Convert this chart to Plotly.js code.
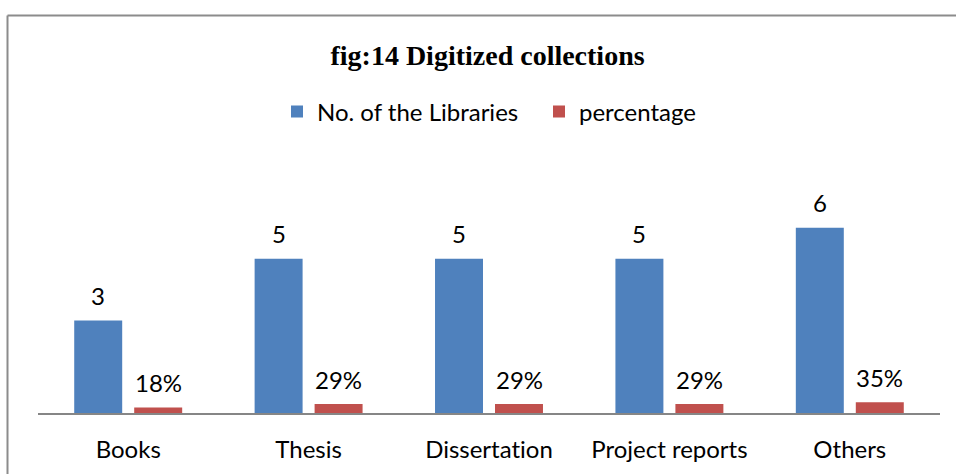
<!DOCTYPE html>
<html>
<head>
<meta charset="utf-8">
<script src="https://cdn.plot.ly/plotly-3.0.1.min.js"></script>
<style>
  html, body { margin: 0; padding: 0; background: #ffffff; }
  #chart { width: 956px; height: 474px; }
  #chart text { font-variant-ligatures: none !important; font-feature-settings: "liga" 0, "clig" 0 !important; }
</style>
</head>
<body>
<div id="chart"></div>
<script>
const categories = ["Books", "Thesis", "Dissertation", "Project reports", "Others"];
const libraries = [3, 5, 5, 5, 6];
const percentage = [0.18, 0.29, 0.29, 0.29, 0.35];
const percentLabels = ["18%", "29%", "29%", "29%", "35%"];
const seriesNames = ["No. of the Libraries", "percentage"];

const labelFont = { family: "Lato, 'Noto Sans', sans-serif", size: 24, color: "#000000" };

const traces = [
  { type: "bar", name: seriesNames[0], x: categories, y: libraries,
    marker: { color: "#4F81BD" }, hoverinfo: "skip" },
  { type: "bar", name: seriesNames[1], x: categories, y: percentage,
    marker: { color: "#C0504D" }, hoverinfo: "skip" }
];

const annotations = [];
categories.forEach((c, i) => {
  annotations.push({ x: c, y: libraries[i], xref: "x", yref: "y", text: String(libraries[i]),
    showarrow: false, xshift: -30, yshift: 25, yanchor: "middle", font: labelFont });
  annotations.push({ x: c, y: percentage[i], xref: "x", yref: "y", text: percentLabels[i],
    showarrow: false, xshift: 30, yshift: 25, yanchor: "middle", font: labelFont });
});

const layout = {
  width: 956, height: 474,
  margin: { l: 38, r: 16, t: 197, b: 61 },
  paper_bgcolor: "#ffffff", plot_bgcolor: "#ffffff",
  barmode: "group", bargap: 0.335, bargroupgap: 0.2,
  title: { text: "<b>fig:14 Digitized collections</b>",
    font: { family: "'Liberation Serif', 'Times New Roman', serif", size: 28, color: "#000000" },
    x: 0.51, xanchor: "center", y: 1 - 55 / 474, yanchor: "middle" },
  showlegend: true,
  legend: { orientation: "h", x: (291 - 14 - 38) / 902, xanchor: "left", y: (413 - 112) / 216, yanchor: "middle",
    font: labelFont, itemwidth: 30, entrywidth: 217, traceorder: "normal" },
  xaxis: { type: "category", showline: true, linecolor: "#868686", linewidth: 2,
    ticks: "", showgrid: false, zeroline: false, tickfont: labelFont, ticklabelstandoff: 14 },
  yaxis: { range: [0, 7], visible: false, showgrid: false, zeroline: false },
  annotations: annotations,
  shapes: [
    { type: "line", xref: "paper", yref: "paper", x0: (7.5 - 38) / 902, x1: (970 - 38) / 902,
      y0: (413 - 15.5) / 216, y1: (413 - 15.5) / 216, line: { color: "#8c8c8c", width: 2 } },
    { type: "line", xref: "paper", yref: "paper", x0: (7.5 - 38) / 902, x1: (7.5 - 38) / 902,
      y0: (413 - 15.5) / 216, y1: (413 - 490) / 216, line: { color: "#8c8c8c", width: 2 } }
  ]
};

Plotly.newPlot("chart", traces, layout, { displayModeBar: false, staticPlot: true });
</script>
</body>
</html>
